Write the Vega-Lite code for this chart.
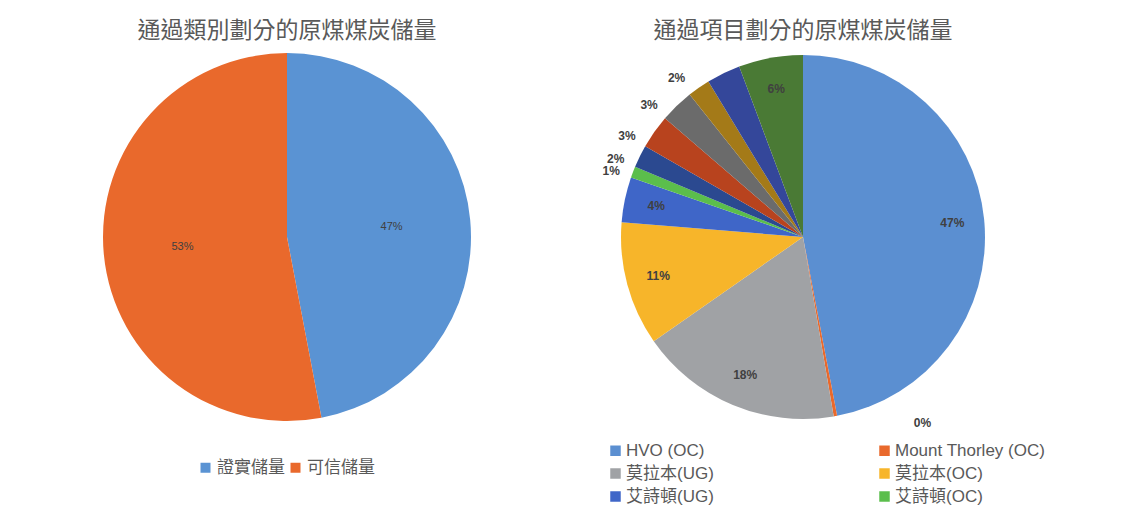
{
  "$schema": "https://vega.github.io/schema/vega-lite/v6.json",
  "background": "white",
  "padding": {"left": 101, "top": 20, "right": 0, "bottom": 0},
  "bounds": "flush",
  "spacing": 148,
  "resolve": {"scale": {"color": "independent", "theta": "independent"}, "legend": {"color": "independent"}},
  "config": {
    "view": {"stroke": null},
    "font": "Liberation Sans, Noto Sans CJK TC",
    "title": {"font": "Noto Sans CJK TC", "fontSize": 23, "fontWeight": "normal", "color": "#595959", "offset": 10, "anchor": "middle"},
    "legend": {"padding": 0, "labelFont": "Liberation Sans, Noto Sans CJK TC", "labelColor": "#595959", "labelFontSize": 17, "symbolType": "square", "symbolStrokeWidth": 0, "title": null}
  },
  "hconcat": [
    {
      "width": 372,
      "height": 368,
      "title": {"text": "通過類別劃分的原煤煤炭儲量"},
      "data": {"values": [
        {"類別": "證實儲量", "value": 47, "label": "47%", "i": 1},
        {"類別": "可信儲量", "value": 53, "label": "53%", "i": 2}
      ]},
      "encoding": {
        "theta": {"field": "value", "type": "quantitative", "stack": true},
        "order": {"field": "i", "type": "quantitative"}
      },
      "layer": [
        {
          "mark": {"type": "arc"},
          "encoding": {
            "color": {
              "field": "類別", "type": "nominal",
              "scale": {"domain": ["證實儲量", "可信儲量"], "range": ["#5A93D3", "#E9692C"]},
              "legend": {"orient": "none", "direction": "horizontal", "legendX": 96, "legendY": 406, "columnPadding": 2, "labelOffset": 3, "symbolSize": 100}
            }
          }
        },
        {
          "mark": {"type": "text", "radius": 105, "fontSize": 11, "fill": "#404040"},
          "encoding": {"text": {"field": "label", "type": "nominal"}}
        }
      ]
    },
    {
      "width": 364,
      "height": 368,
      "title": {"text": "通過項目劃分的原煤煤炭儲量"},
      "data": {"values": [
        {"項目": "HVO (OC)", "value": 47, "label": "47%", "i": 1},
        {"項目": "Mount Thorley (OC)", "value": 0.3, "label": "0%", "i": 2},
        {"項目": "莫拉本(UG)", "value": 18, "label": "18%", "i": 3},
        {"項目": "莫拉本(OC)", "value": 11, "label": "11%", "i": 4},
        {"項目": "艾詩頓(UG)", "value": 4, "label": "4%", "i": 5},
        {"項目": "艾詩頓(OC)", "value": 1, "label": "1%", "i": 6},
        {"項目": "雅若碧(OC)", "value": 2, "label": "2%", "i": 7},
        {"項目": "斯特拉福(OC)", "value": 3, "label": "3%", "i": 8},
        {"項目": "杜拉利(OC)", "value": 3, "label": "3%", "i": 9},
        {"項目": "中山(OC)", "value": 2, "label": "2%", "i": 10},
        {"項目": "沃克沃斯(OC)", "value": 3, "label": "", "i": 11},
        {"項目": "奧斯達(UG)", "value": 5.7, "label": "6%", "i": 12}
      ]},
      "layer": [
        {
          "mark": {"type": "arc"},
          "encoding": {
            "theta": {"field": "value", "type": "quantitative", "stack": true},
            "order": {"field": "i", "type": "quantitative"},
            "color": {
              "field": "項目", "type": "nominal",
              "scale": {
                "domain": ["HVO (OC)", "Mount Thorley (OC)", "莫拉本(UG)", "莫拉本(OC)", "艾詩頓(UG)", "艾詩頓(OC)", "雅若碧(OC)", "斯特拉福(OC)", "杜拉利(OC)", "中山(OC)", "沃克沃斯(OC)", "奧斯達(UG)"],
                "range": ["#5B8FD1", "#E9692C", "#A0A2A5", "#F7B52A", "#3F66C8", "#5BBE4C", "#2B4990", "#B8431E", "#6B6B6B", "#A47A18", "#34479A", "#4A7A35"]
              },
              "legend": {
                "orient": "none", "direction": "horizontal", "legendX": -14, "legendY": 389, "columns": 2,
                "values": ["HVO (OC)", "Mount Thorley (OC)", "莫拉本(UG)", "莫拉本(OC)", "艾詩頓(UG)", "艾詩頓(OC)"],
                "rowPadding": 5, "columnPadding": 162, "labelOffset": 2, "symbolSize": 110
              }
            }
          }
        },
        {
          "mark": {"type": "text", "radius": 150, "fontSize": 12, "fontWeight": "bold", "fill": "#404040"},
          "encoding": {
            "theta": {"field": "value", "type": "quantitative", "stack": true},
            "order": {"field": "i", "type": "quantitative"},
            "text": {"condition": {"test": "datum.value < 4", "value": ""}, "field": "label", "type": "nominal"}
          }
        },
        {
          "transform": [
            {"stack": "value", "groupby": [], "sort": [{"field": "i", "order": "ascending"}], "as": ["s0", "s1"]},
            {"filter": "datum.value >= 1 && datum.value < 4"}
          ],
          "mark": {"type": "text", "radius": 203, "fontSize": 12, "fontWeight": "bold", "fill": "#404040"},
          "encoding": {
            "theta": {"field": "s0", "type": "quantitative"},
            "theta2": {"field": "s1"},
            "text": {"field": "label", "type": "nominal"}
          }
        },
        {
          "transform": [
            {"stack": "value", "groupby": [], "sort": [{"field": "i", "order": "ascending"}], "as": ["s0", "s1"]},
            {"filter": "datum.value < 1"}
          ],
          "mark": {"type": "text", "radius": 200, "dx": 82, "dy": -10, "fontSize": 12, "fontWeight": "bold", "fill": "#404040"},
          "encoding": {
            "theta": {"field": "s0", "type": "quantitative"},
            "text": {"field": "label", "type": "nominal"}
          }
        }
      ]
    }
  ]
}
